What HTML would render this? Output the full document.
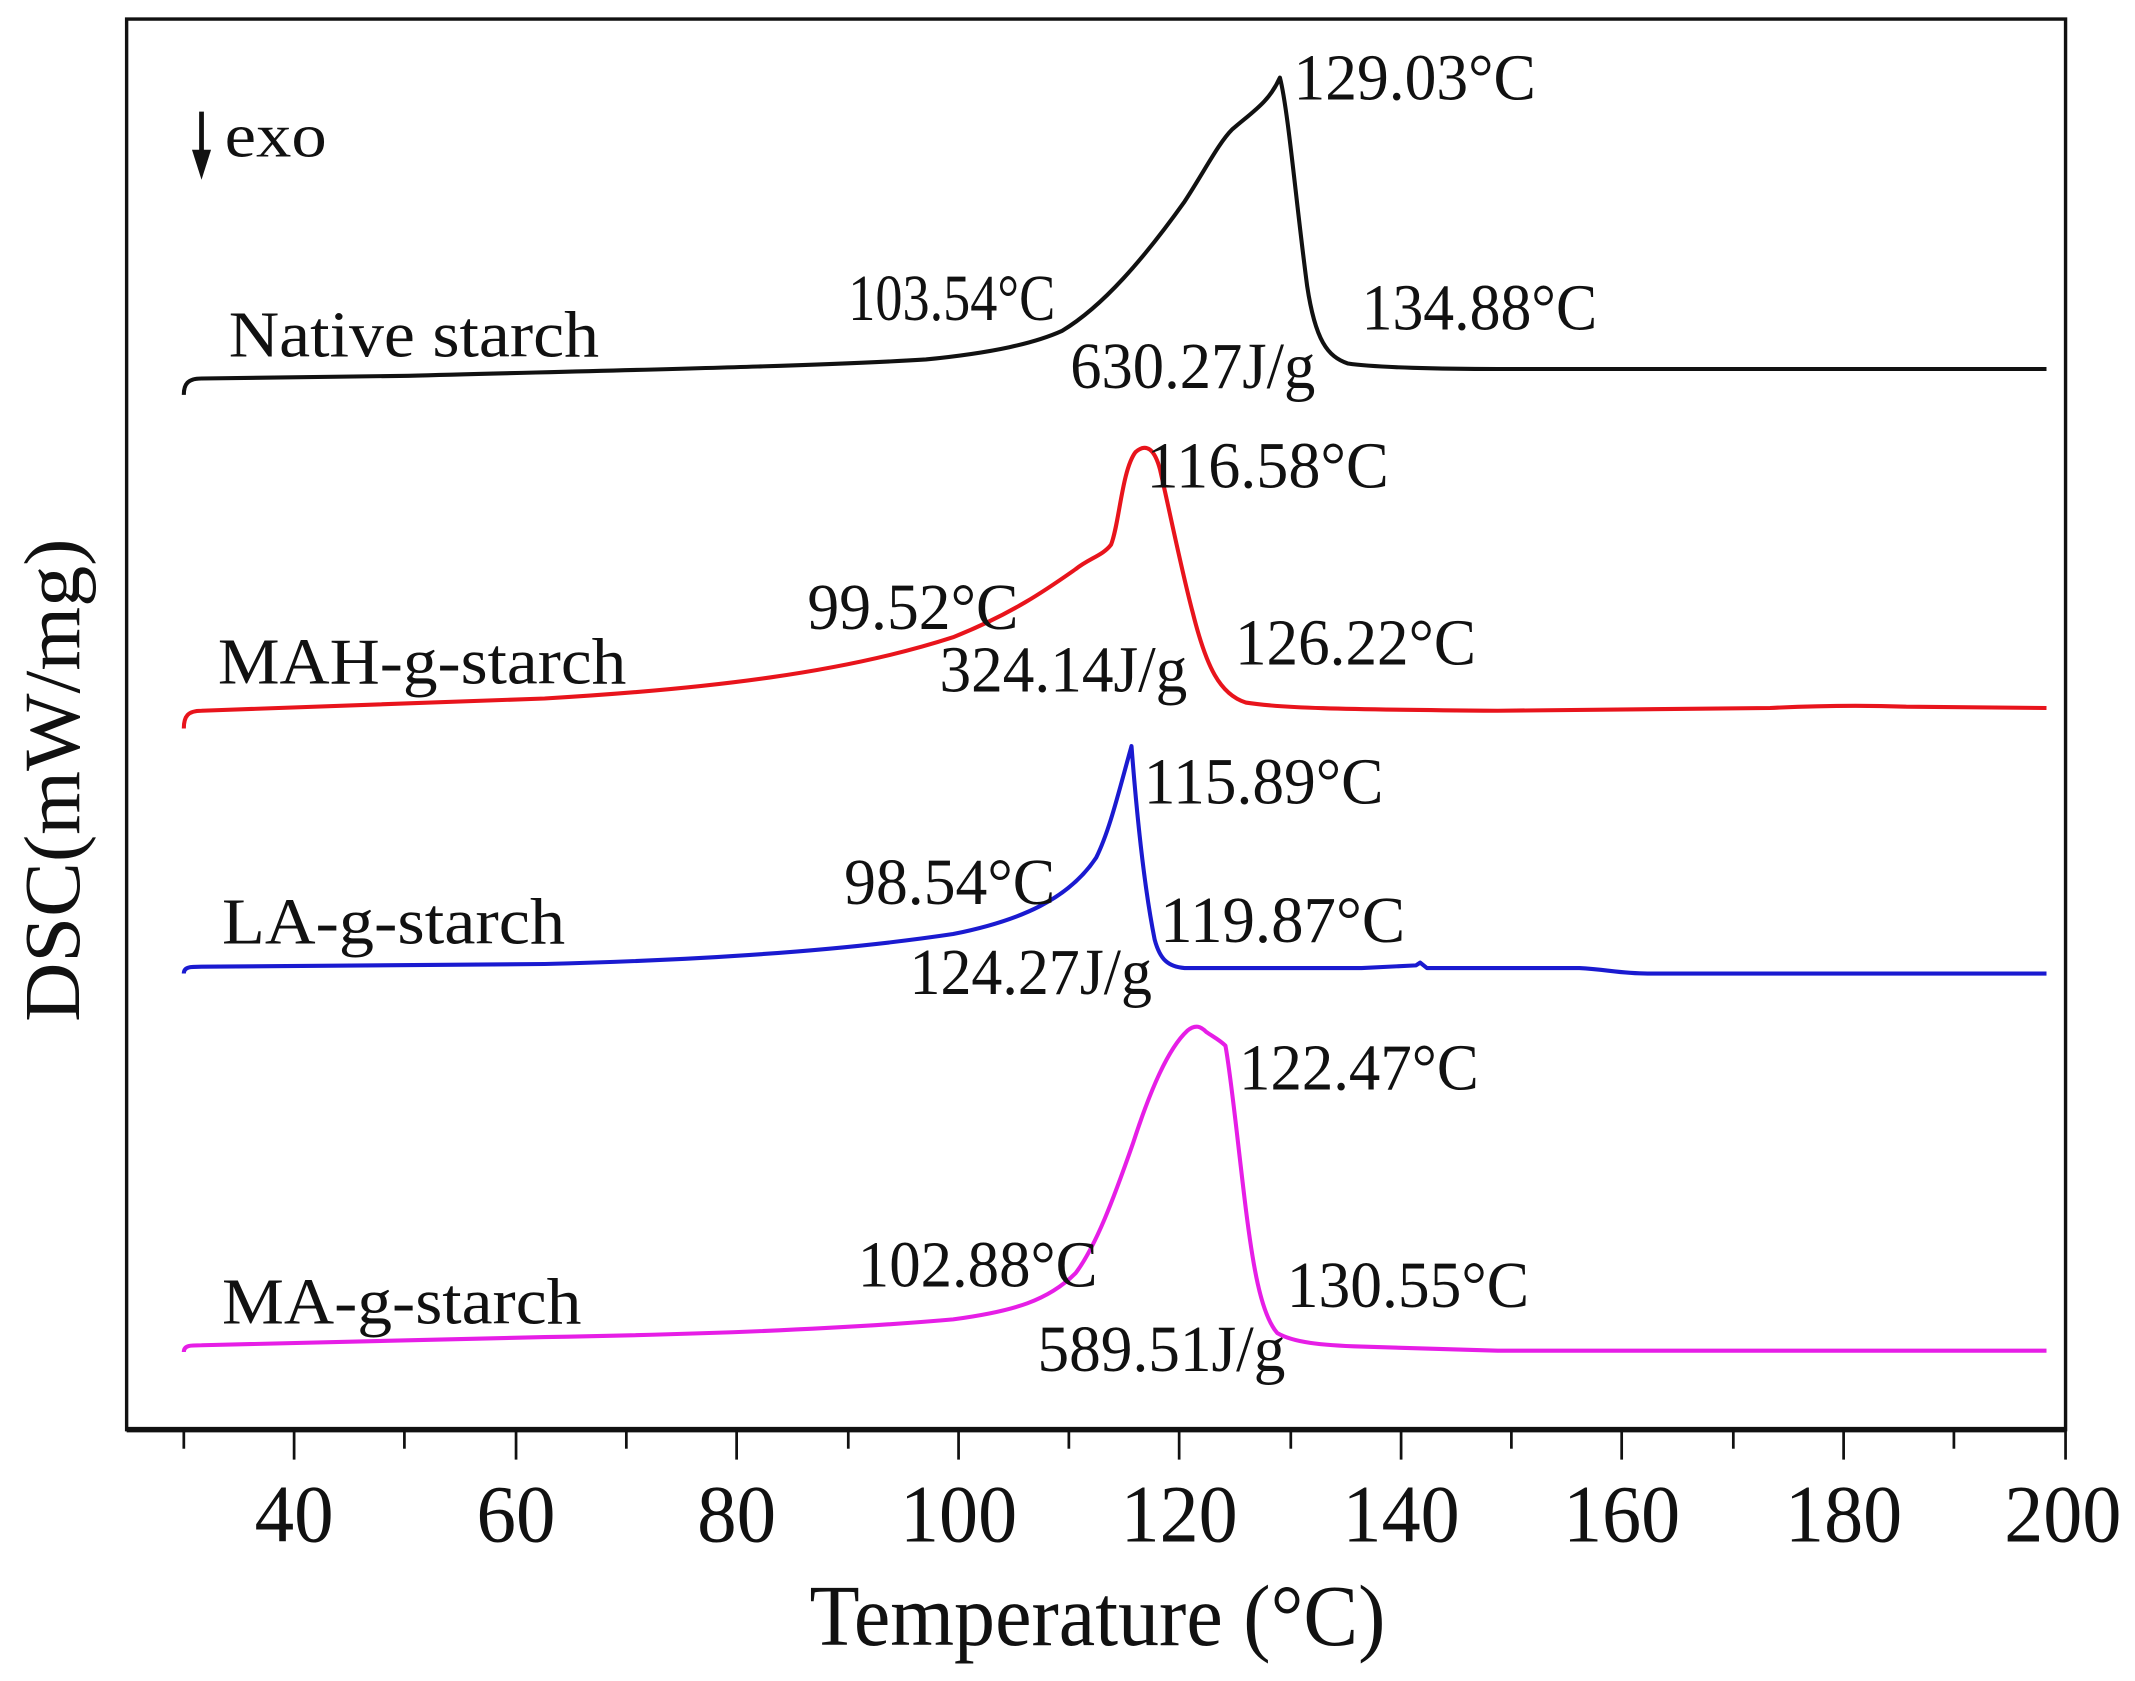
<!DOCTYPE html>
<html><head><meta charset="utf-8"><style>
html,body{margin:0;padding:0;background:#fff}
svg{display:block}
text{font-family:"Liberation Serif",serif;fill:#111}
</style></head><body>
<svg width="2135" height="1681" viewBox="0 0 1568 1234.6" preserveAspectRatio="none">
<rect x="93" y="14" width="1424" height="1036" fill="none" stroke="#111" stroke-width="2.5"/>
<line x1="93" y1="1050" x2="1517" y2="1050" stroke="#111" stroke-width="4"/>
<g stroke="#111" stroke-width="2">
<line x1="135" y1="1050" x2="135" y2="1064"/><line x1="216" y1="1050" x2="216" y2="1072"/>
<line x1="297" y1="1050" x2="297" y2="1064"/><line x1="379" y1="1050" x2="379" y2="1072"/>
<line x1="460" y1="1050" x2="460" y2="1064"/><line x1="541" y1="1050" x2="541" y2="1072"/>
<line x1="623" y1="1050" x2="623" y2="1064"/><line x1="704" y1="1050" x2="704" y2="1072"/>
<line x1="785" y1="1050" x2="785" y2="1064"/><line x1="866" y1="1050" x2="866" y2="1072"/>
<line x1="948" y1="1050" x2="948" y2="1064"/><line x1="1029" y1="1050" x2="1029" y2="1072"/>
<line x1="1110" y1="1050" x2="1110" y2="1064"/><line x1="1191" y1="1050" x2="1191" y2="1072"/>
<line x1="1273" y1="1050" x2="1273" y2="1064"/><line x1="1354" y1="1050" x2="1354" y2="1072"/>
<line x1="1435" y1="1050" x2="1435" y2="1064"/><line x1="1517" y1="1050" x2="1517" y2="1072"/>
</g>
<g font-size="60" text-anchor="middle">
<text x="216" y="1132" textLength="58" lengthAdjust="spacingAndGlyphs">40</text>
<text x="379" y="1132" textLength="58" lengthAdjust="spacingAndGlyphs">60</text>
<text x="541" y="1132" textLength="58" lengthAdjust="spacingAndGlyphs">80</text>
<text x="704" y="1132" textLength="86" lengthAdjust="spacingAndGlyphs">100</text>
<text x="866" y="1132" textLength="86" lengthAdjust="spacingAndGlyphs">120</text>
<text x="1029" y="1132" textLength="86" lengthAdjust="spacingAndGlyphs">140</text>
<text x="1191" y="1132" textLength="86" lengthAdjust="spacingAndGlyphs">160</text>
<text x="1354" y="1132" textLength="86" lengthAdjust="spacingAndGlyphs">180</text>
<text x="1515" y="1132" textLength="86" lengthAdjust="spacingAndGlyphs">200</text>
</g>
<text x="806" y="1208" font-size="64" text-anchor="middle" textLength="423" lengthAdjust="spacingAndGlyphs">Temperature (°C)</text>
<text transform="translate(58,573) rotate(-90)" font-size="58" text-anchor="middle" textLength="355" lengthAdjust="spacingAndGlyphs">DSC(mW/mg)</text>

<line x1="148" y1="82" x2="148" y2="116" stroke="#111" stroke-width="3.5"/>
<polygon points="141,110 155,110 148,132" fill="#111"/>
<text x="165" y="115" font-size="46" textLength="75" lengthAdjust="spacingAndGlyphs">exo</text>

<g fill="none" stroke-width="3" stroke-linejoin="round">
<path stroke="#111" d="M135,290 C135,282 138,278 148,278 L300,276 C450,272 600,269 680,264 C730,259 760,252 780,243 C810,225 840,190 870,148 C885,125 895,105 905,95 C920,82 932,75 940,57 C946,80 952,150 960,210 C966,250 975,262 990,267 C1010,270 1060,271 1100,271 L1503,271"/>
<path stroke="#e8141c" d="M135,535 C135,526 138,522 148,522 L400,513 C520,506 620,494 700,468 C745,450 770,432 790,418 C800,410 810,408 816,400 C822,385 824,345 834,332 C842,325 848,330 852,345 C860,380 868,420 876,450 C886,490 896,510 915,516 C940,520 980,521 1100,522 L1300,520 C1340,518 1370,518 1400,519 L1503,520"/>
<path stroke="#1a1ad0" d="M135,715 C135,710 140,710 148,710 L400,708 C520,705 620,698 700,686 C750,676 785,660 805,630 C815,610 822,580 831,548 C835,600 840,650 848,690 C852,705 858,710 870,711 L1000,711 L1040,709 L1043,707 L1048,711 L1160,711 C1180,712 1190,715 1210,715 L1503,715"/>
<path stroke="#e61ee6" d="M135,993 C135,988 140,988 148,988 L400,982 C520,980 620,976 700,969 C745,963 770,955 790,935 C805,915 818,880 832,840 C845,800 858,770 872,757 C878,752 882,754 886,758 C892,762 896,764 900,768 C904,790 908,830 914,880 C920,930 926,965 938,979 C950,986 970,988 1000,989 L1100,992 L1503,992"/>
</g>

<g font-size="48" lengthAdjust="spacingAndGlyphs">
<text x="168" y="262" textLength="272" lengthAdjust="spacingAndGlyphs">Native starch</text>
<text x="623" y="235" textLength="152" lengthAdjust="spacingAndGlyphs">103.54°C</text>
<text x="786" y="285" textLength="180" lengthAdjust="spacingAndGlyphs">630.27J/g</text>
<text x="1000" y="242" textLength="173" lengthAdjust="spacingAndGlyphs">134.88°C</text>
<text x="950" y="73" textLength="178" lengthAdjust="spacingAndGlyphs">129.03°C</text>

<text x="160" y="502" textLength="300" lengthAdjust="spacingAndGlyphs">MAH-g-starch</text>
<text x="593" y="462" textLength="155" lengthAdjust="spacingAndGlyphs">99.52°C</text>
<text x="690" y="508" textLength="182" lengthAdjust="spacingAndGlyphs">324.14J/g</text>
<text x="907" y="488" textLength="177" lengthAdjust="spacingAndGlyphs">126.22°C</text>
<text x="842" y="358" textLength="178" lengthAdjust="spacingAndGlyphs">116.58°C</text>

<text x="163" y="693" textLength="252" lengthAdjust="spacingAndGlyphs">LA-g-starch</text>
<text x="620" y="664" textLength="155" lengthAdjust="spacingAndGlyphs">98.54°C</text>
<text x="668" y="730" textLength="178" lengthAdjust="spacingAndGlyphs">124.27J/g</text>
<text x="852" y="692" textLength="180" lengthAdjust="spacingAndGlyphs">119.87°C</text>
<text x="840" y="590" textLength="176" lengthAdjust="spacingAndGlyphs">115.89°C</text>

<text x="163" y="972" textLength="264" lengthAdjust="spacingAndGlyphs">MA-g-starch</text>
<text x="630" y="945" textLength="176" lengthAdjust="spacingAndGlyphs">102.88°C</text>
<text x="762" y="1007" textLength="182" lengthAdjust="spacingAndGlyphs">589.51J/g</text>
<text x="945" y="960" textLength="178" lengthAdjust="spacingAndGlyphs">130.55°C</text>
<text x="910" y="800" textLength="176" lengthAdjust="spacingAndGlyphs">122.47°C</text>
</g>
</svg>
</body></html>
